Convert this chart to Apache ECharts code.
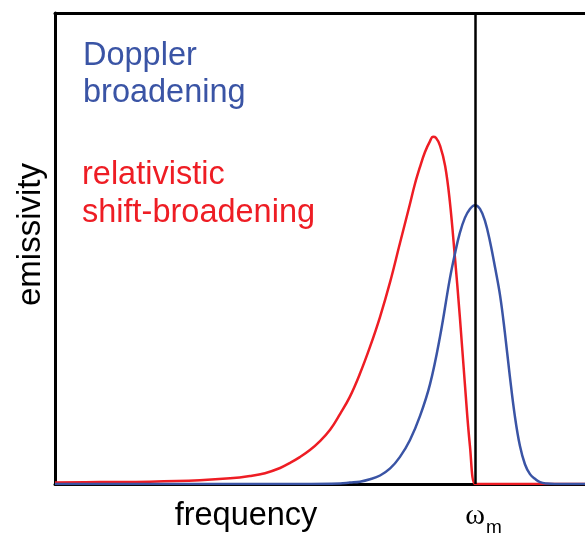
<!DOCTYPE html>
<html>
<head>
<meta charset="utf-8">
<script src="https://cdn.jsdelivr.net/npm/echarts@6/dist/echarts.min.js"></script>
<style>
  html, body { margin: 0; padding: 0; background: #fff; }
  #chart { width: 585px; height: 534px; }
</style>
</head>
<body>
<div id="chart"></div>
<script>
// Frequency in units of the line frequency ω_m; emissivity in arbitrary units (1 = top of frame).
const shiftFreq = [0.000, 0.107, 0.226, 0.345, 0.417, 0.464, 0.500, 0.536, 0.560, 0.583,
  0.607, 0.631, 0.655, 0.679, 0.702, 0.726, 0.750, 0.774, 0.798, 0.821, 0.845, 0.857,
  0.869, 0.881, 0.893, 0.900, 0.907, 0.917, 0.929, 0.940, 0.952, 0.964, 0.976, 0.988,
  1.000, 1.010, 1.040, 1.262];
const shiftEmis = [0.003, 0.004, 0.005, 0.008, 0.012, 0.017, 0.023, 0.034, 0.045, 0.057,
  0.072, 0.091, 0.115, 0.149, 0.185, 0.234, 0.291, 0.355, 0.429, 0.510, 0.594, 0.637,
  0.673, 0.705, 0.728, 0.737, 0.735, 0.718, 0.675, 0.601, 0.484, 0.355, 0.212, 0.081,
  0.000, 0.000, 0.000, 0.000];

const dopplerFreq = [0.000, 0.583, 0.679, 0.702, 0.726, 0.750, 0.774, 0.798, 0.821, 0.845,
  0.869, 0.893, 0.917, 0.940, 0.952, 0.964, 0.976, 0.988, 1.000, 1.012, 1.024, 1.036,
  1.048, 1.060, 1.071, 1.083, 1.095, 1.107, 1.119, 1.131, 1.143, 1.155, 1.171, 1.190, 1.262];
const dopplerEmis = [0.000, 0.000, 0.001, 0.003, 0.005, 0.010, 0.018, 0.033, 0.057, 0.093,
  0.144, 0.212, 0.314, 0.435, 0.488, 0.533, 0.565, 0.584, 0.592, 0.584, 0.558, 0.514,
  0.459, 0.399, 0.323, 0.229, 0.144, 0.081, 0.042, 0.021, 0.011, 0.004, 0.001, 0.000, 0.000];

const lineFreq = 1;          // ω_m marker
const freqMax = 1.262;
const emisMax = 1;

const BLUE = '#3a54a5';
const RED = '#ee1d24';
const SANS = '"Liberation Sans", Arial, sans-serif';

const pair = (xs, ys) => xs.map((x, i) => [x, ys[i]]);

const chart = echarts.init(document.getElementById('chart'), null, { renderer: 'canvas' });

chart.setOption({
  animation: false,
  backgroundColor: '#ffffff',
  grid: { left: 55, right: 0, top: 13, bottom: 50, containLabel: false, outerBoundsMode: 'none' },
  xAxis: [{
    type: 'value', min: 0, max: freqMax,
    axisLine: { show: true, onZero: false, lineStyle: { color: '#000', width: 3 } },
    axisTick: { show: false },
    splitLine: { show: false },
    axisLabel: {
      customValues: [lineFreq],
      margin: 12,
      formatter: () => '{p|}{w|ω}{s|m}',
      rich: {
        p: { width: 17 },
        w: { fontFamily: '"Liberation Serif", "DejaVu Serif", serif', fontSize: 30, color: '#000' },
        s: { fontFamily: SANS, fontSize: 19, color: '#000', verticalAlign: 'bottom', padding: [22, 0, 0, 1] }
      }
    },
    name: 'frequency',
    nameLocation: 'middle',
    nameGap: 16,
    nameMoveOverlap: false,
    nameTextStyle: { fontFamily: SANS, fontSize: 32.5, color: '#000', verticalAlign: 'top', padding: [0, 148, 0, 0] }
  }, {
    type: 'value', min: 0, max: freqMax, position: 'top',
    axisLine: { show: true, onZero: false, lineStyle: { color: '#000', width: 3 } },
    axisTick: { show: false }, axisLabel: { show: false }, splitLine: { show: false }
  }],
  yAxis: {
    type: 'value', min: 0, max: emisMax,
    axisLine: { show: true, onZero: false, lineStyle: { color: '#000', width: 3 } },
    axisTick: { show: false }, axisLabel: { show: false }, splitLine: { show: false },
    name: 'emissivity',
    nameLocation: 'middle',
    nameRotate: 90,
    nameGap: 8,
    nameMoveOverlap: false,
    nameTextStyle: { fontFamily: SANS, fontSize: 33, color: '#000', padding: [0, 0, 0, 28] }
  },
  series: [{
    name: 'relativistic shift-broadening',
    type: 'line',
    data: pair(shiftFreq, shiftEmis),
    showSymbol: false,
    smooth: 0.4,
    lineStyle: { color: RED, width: 2.5 },
    z: 3,
    markLine: {
      silent: true,
      symbol: 'none',
      label: { show: false },
      lineStyle: { color: '#000', width: 2.5, type: 'solid' },
      data: [{ xAxis: lineFreq }]
    }
  }, {
    name: 'Doppler broadening',
    type: 'line',
    data: pair(dopplerFreq, dopplerEmis),
    showSymbol: false,
    smooth: 0.4,
    lineStyle: { color: BLUE, width: 2.5 },
    z: 4
  }],
  graphic: [{
    type: 'text', left: 83, top: 38,
    style: { text: 'Doppler\nbroadening', fill: BLUE, font: '32.5px ' + SANS, lineHeight: 37 }
  }, {
    type: 'text', left: 82, top: 156,
    style: { text: 'relativistic\nshift-broadening', fill: RED, font: '32.5px ' + SANS, lineHeight: 38 }
  }]
});
</script>
</body>
</html>
